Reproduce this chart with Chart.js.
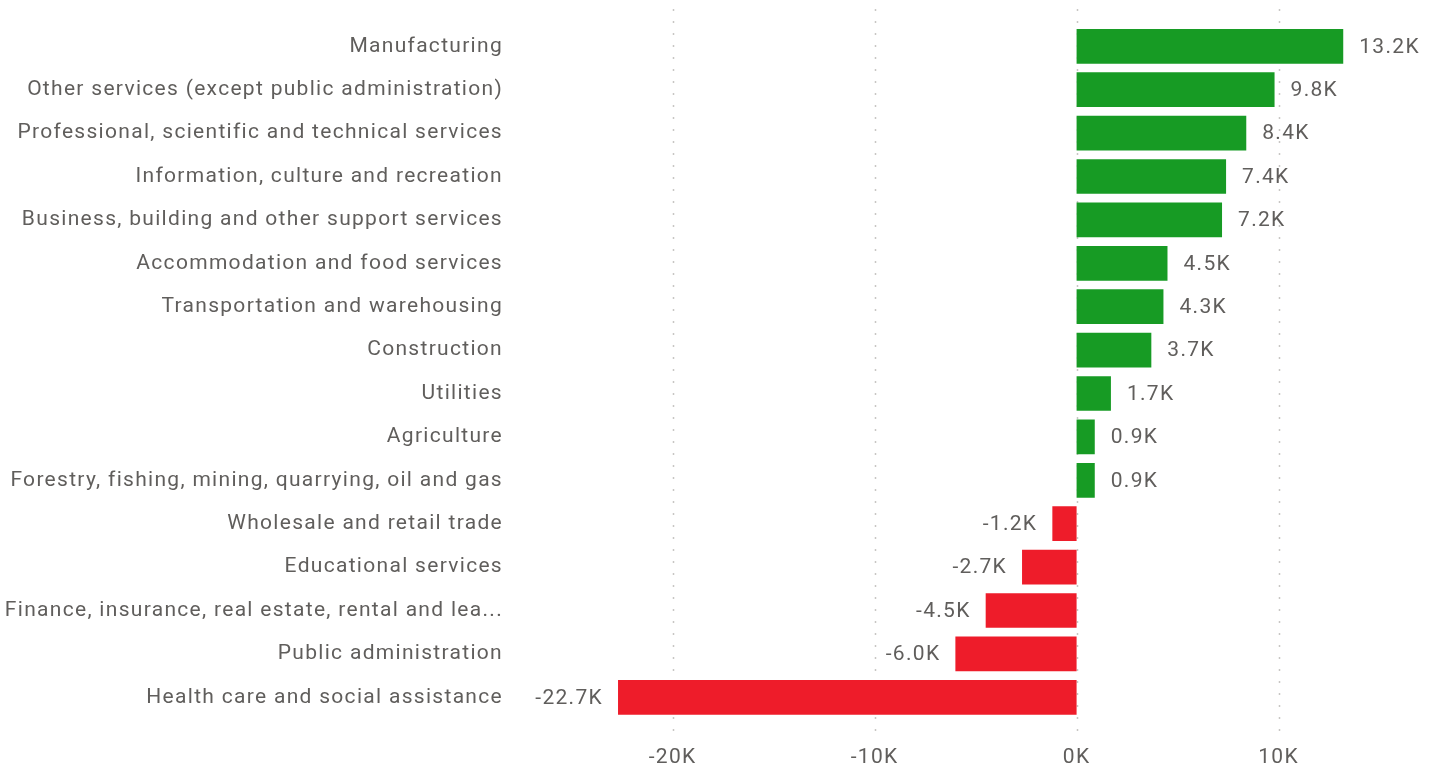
<!DOCTYPE html>
<html>
<head>
<meta charset="utf-8">
<script src="https://cdn.jsdelivr.net/npm/chart.js@4.4.0/dist/chart.umd.min.js"></script>
<style>
    html, body { margin: 0; padding: 0; background: #ffffff; }
    #wrap { width: 1433px; height: 769px; position: relative; }
</style>
</head>
<body>
<div id="wrap"><canvas id="industryChart"></canvas></div>
<script>
const categories = [
    "Manufacturing",
    "Other services (except public administration)",
    "Professional, scientific and technical services",
    "Information, culture and recreation",
    "Business, building and other support services",
    "Accommodation and food services",
    "Transportation and warehousing",
    "Construction",
    "Utilities",
    "Agriculture",
    "Forestry, fishing, mining, quarrying, oil and gas",
    "Wholesale and retail trade",
    "Educational services",
    "Finance, insurance, real estate, rental and lea...",
    "Public administration",
    "Health care and social assistance",
];
const changeValues = [
    13200, 9800, 8400, 7400, 7200, 4500, 4300, 3700, 1700, 900, 900,
    -1200, -2700, -4500, -6000, -22700,
];
const xTickValues = [-20000, -10000, 0, 10000];

const textColor = "#605E5C";
const gridColor = "#C8C6C4";
const fontFamily = "Roboto, 'DejaVu Sans', sans-serif";
const letterSpacing = "1.3px";

function kFormat(v) {
    return (v / 1000).toFixed(1) + "K";
}

// wider tracking to get closer to the DIN look
const tracking = {
    id: "tracking",
    beforeDraw(chart) {
        chart.ctx.letterSpacing = letterSpacing;
    },
};

// dotted vertical gridlines, a bit taller than the plot area
const dottedGrid = {
    id: "dottedGrid",
    beforeDatasetsDraw(chart) {
        const ctx = chart.ctx;
        const xScale = chart.scales.x;
        ctx.save();
        ctx.strokeStyle = gridColor;
        ctx.lineWidth = 1.5;
        ctx.setLineDash([2, 10]);
        xTickValues.forEach(function (v) {
            const px = Math.round(xScale.getPixelForValue(v)) + 0.5;
            ctx.beginPath();
            ctx.moveTo(px, 9);
            ctx.lineTo(px, chart.chartArea.bottom + 12);
            ctx.stroke();
        });
        ctx.restore();
    },
};

const barLabels = {
    id: "barLabels",
    afterDatasetsDraw(chart) {
        const ctx = chart.ctx;
        const meta = chart.getDatasetMeta(0);
        ctx.save();
        ctx.font = "21px " + fontFamily;
        ctx.fillStyle = textColor;
        ctx.textBaseline = "middle";
        meta.data.forEach(function (bar, i) {
            const v = changeValues[i];
            if (v >= 0) {
                ctx.textAlign = "left";
                ctx.fillText(kFormat(v), bar.x + 16, bar.y + 1);
            } else {
                ctx.textAlign = "right";
                ctx.fillText(kFormat(v), bar.x - 15, bar.y + 1);
            }
        });
        ctx.restore();
    },
};

new Chart(document.getElementById("industryChart"), {
    type: "bar",
    data: {
        labels: categories,
        datasets: [
            {
                data: changeValues,
                backgroundColor: changeValues.map((v) => (v >= 0 ? "#179B24" : "#EE1C2A")),
                categoryPercentage: 1,
                barPercentage: 0.8,
            },
        ],
    },
    options: {
        indexAxis: "y",
        responsive: true,
        maintainAspectRatio: false,
        animation: false,
        layout: { padding: { top: 22, right: 13, left: 0, bottom: 0 } },
        plugins: {
            legend: { display: false },
            tooltip: { enabled: false },
        },
        scales: {
            x: {
                min: -27800,
                max: 17000,
                afterBuildTicks: function (scale) {
                    scale.ticks = xTickValues.map((v) => ({ value: v }));
                },
                afterFit: function (scale) {
                    scale.height = 50;
                },
                ticks: {
                    color: textColor,
                    font: { family: fontFamily, size: 21 },
                    padding: 26,
                    callback: function (value) {
                        return value / 1000 + "K";
                    },
                },
                grid: { display: false, drawTicks: false },
                border: { display: false },
            },
            y: {
                afterFit: function (scale) {
                    scale.width = 515;
                },
                ticks: {
                    color: textColor,
                    font: { family: fontFamily, size: 21 },
                    padding: 12,
                },
                grid: { display: false, drawTicks: false },
                border: { display: false },
            },
        },
    },
    plugins: [tracking, dottedGrid, barLabels],
});
</script>
</body>
</html>
